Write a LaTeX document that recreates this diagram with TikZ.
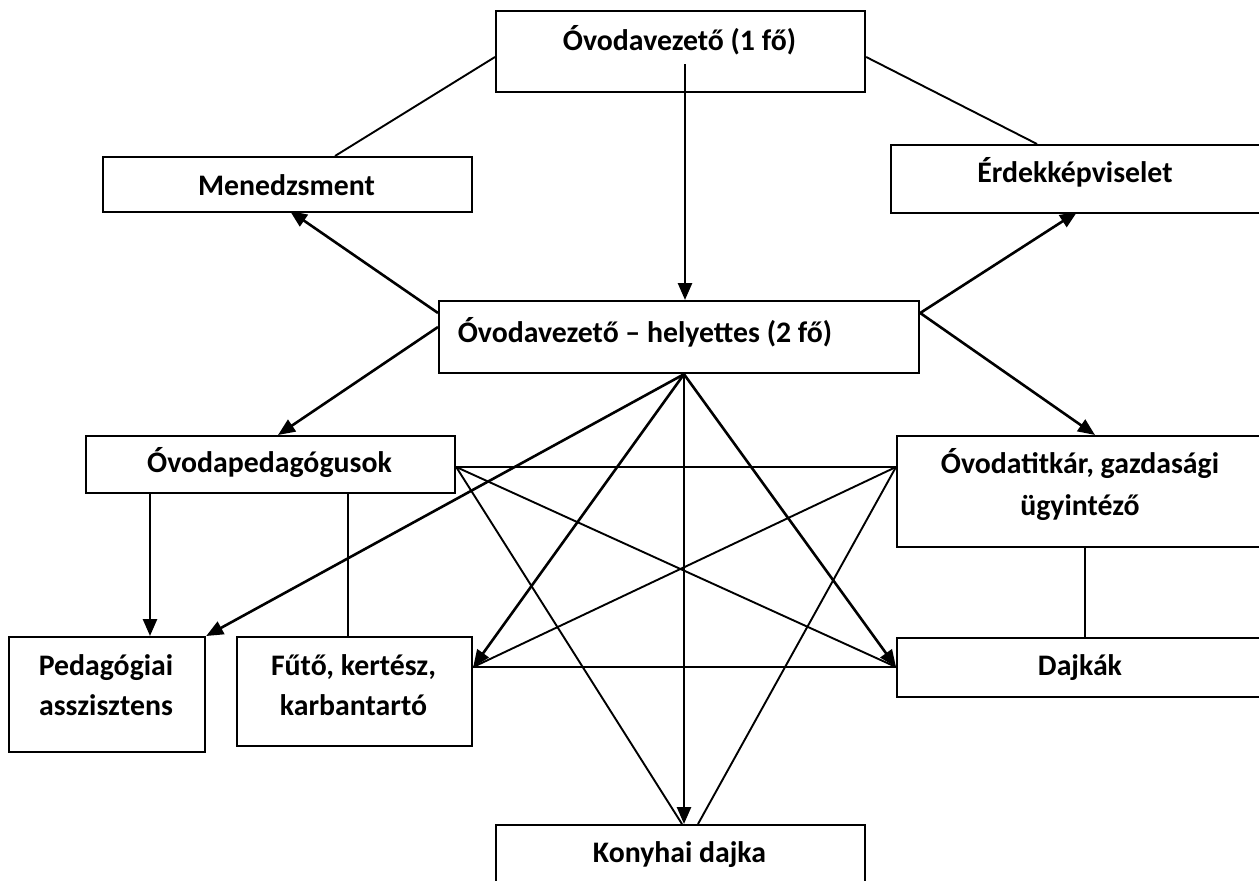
\documentclass[tikz,border=0pt]{standalone}
\usepackage{fontspec}
\setmainfont{Carlito}
\usetikzlibrary{arrows.meta}
\begin{document}
\begin{tikzpicture}[x=1pt,y=-1pt,
  box/.style={draw, line width=2.2pt, inner sep=0pt, anchor=north west},
  lbl/.style={font=\fontsize{29.8}{41}\selectfont\bfseries, anchor=base, inner sep=0pt},
  fline/.style={line width=1.9pt},
  aline/.style={line width=2.6pt, -{Triangle[length=17pt,width=14pt]}}]
\useasboundingbox (0,0) rectangle (1259,881);
\fill[white] (0,0) rectangle (1259,881);
% boxes
\node[box, minimum width=369pt, minimum height=81pt] (top) at (495,10) {};
\node[box, minimum width=369pt, minimum height=55pt] (men) at (102,156) {};
\node[box, minimum width=372pt, minimum height=68pt] (erd) at (890,144) {};
\node[box, minimum width=480pt, minimum height=72pt] (hely) at (438,300) {};
\node[box, minimum width=369pt, minimum height=57pt] (ovp) at (85,435) {};
\node[box, minimum width=366pt, minimum height=111pt] (otk) at (896,435) {};
\node[box, minimum width=196pt, minimum height=115pt] (ped) at (8,636) {};
\node[box, minimum width=235pt, minimum height=109pt] (fut) at (236,636) {};
\node[box, minimum width=366pt, minimum height=59pt] (daj) at (896,637) {};
\node[box, minimum width=369pt, minimum height=80pt] (kon) at (495,824) {};
% texts
\node[lbl] (topT) at (679.5,50) {Óvodavezető (1 fő)};
\node[lbl] (menT) at (286.5,195) {Menedzsment};
\node[lbl] (erdT) at (1075,182) {Érdekképviselet};
\node[lbl] (helyT) at (645,342) {Óvodavezető – helyettes (2 fő)};
\node[lbl] (ovpT) at (269.5,472) {Óvodapedagógusok};
\node[lbl] (otkA) at (1080,473) {Óvodatitkár, gazdasági};
\node[lbl] (otkB) at (1080,515) {ügyintéző};
\node[lbl] (pedA) at (106,675) {Pedagógiai};
\node[lbl] (pedB) at (106,715) {asszisztens};
\node[lbl] (futA) at (353.5,675) {Fűtő, kertész,};
\node[lbl] (futB) at (353.5,715) {karbantartó};
\node[lbl] (dajT) at (1080,675) {Dajkák};
\node[lbl] (konT) at (679.5,862) {Konyhai dajka};
% named points
\coordinate (apex) at ([shift={(246,0)}]hely.south west);
\coordinate (ovpR) at ([shift={(0,32)}]ovp.north east);
\coordinate (otkL) at ([shift={(0,32)}]otk.north west);
\coordinate (futR) at ([shift={(0,31)}]fut.north east);
\coordinate (dajL) at ([shift={(0,30)}]daj.north west);
% upper connectors
\draw[fline] ([shift={(0,47)}]top.north west) -- ([shift={(233,0)}]men.north west);
\draw[fline] ([shift={(0,47)}]top.north east) -- ([shift={(147,0)}]erd.north west);
\draw[aline] ([shift={(190,54)}]top.north west) -- ([shift={(247,0)}]hely.north west);
\draw[aline] ([shift={(0,13)}]hely.north west) -- ([shift={(188,55)}]men.north west);
\draw[aline] ([shift={(0,27)}]hely.north west) -- ([shift={(193,0)}]ovp.north west);
\draw[aline] ([shift={(0,13)}]hely.north east) -- ([shift={(187,68)}]erd.north west);
\draw[aline] ([shift={(0,13)}]hely.north east) -- ([shift={(199,0)}]otk.north west);
% left and right drops
\draw[aline] ([shift={(65,0)}]ovp.south west) -- ([shift={(142,0)}]ped.north west);
\draw[fline] ([shift={(263,0)}]ovp.south west) -- ([shift={(112,0)}]fut.north west);
\draw[fline] ([shift={(189,0)}]otk.south west) -- ([shift={(189,0)}]daj.north west);
% star
\draw[fline] (ovpR) -- (otkL);
\draw[fline] (ovpR) -- (dajL);
\draw[fline] (ovpR) -- ([shift={(187,0)}]kon.north west);
\draw[fline] (otkL) -- (futR);
\draw[fline] (otkL) -- ([shift={(203,0)}]kon.north west);
\draw[fline] (futR) -- (dajL);
\draw[aline] (apex) -- (ped.north east);
\draw[aline] (apex) -- (futR);
\draw[aline] (apex) -- ([shift={(189,0)}]kon.north west);
\draw[aline] (apex) -- (dajL);
\end{tikzpicture}
\end{document}
